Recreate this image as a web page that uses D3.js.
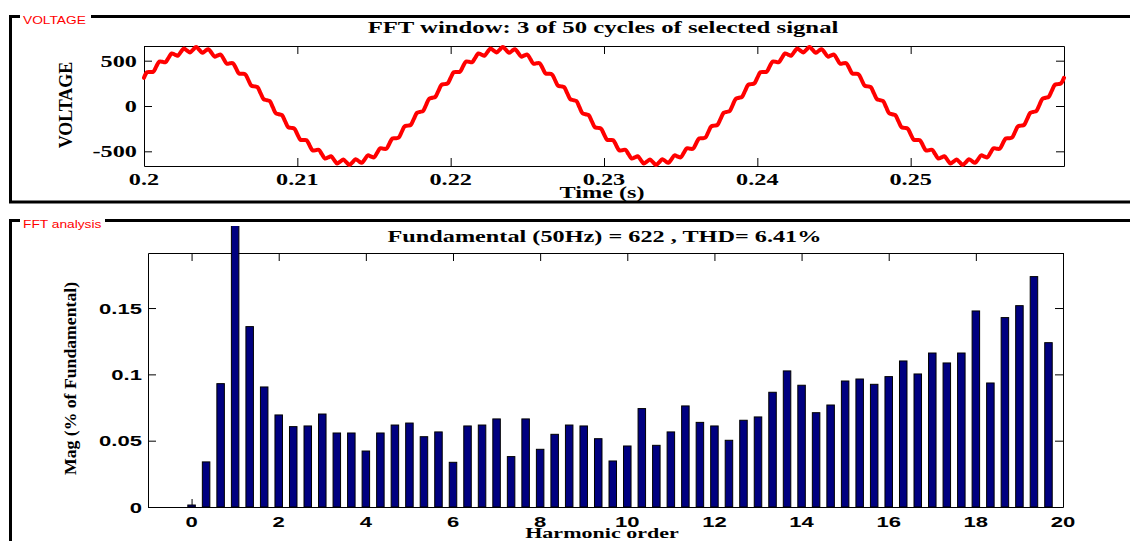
<!DOCTYPE html>
<html>
<head>
<meta charset="utf-8">
<script src="https://cdn.jsdelivr.net/npm/d3@7"></script>
<style>
  body { margin: 0; background: #fff; }
  svg { display: block; }
  .ser { font-family: "Liberation Serif", "Times New Roman", serif; font-weight: bold; fill: #000; }
  .san { font-family: "Liberation Sans", Arial, sans-serif; font-weight: bold; fill: #000; }
  .red { font-family: "Liberation Sans", Arial, sans-serif; fill: #ff0000; }
</style>
</head>
<body>
<div id="chart"></div>
<script>
// ---- data ----
// voltage samples, one every 0.2 ms from t = 0.2 s (3 cycles of 50 Hz)
var voltage = [
  311, 372, 376, 378, 435, 490, 487, 483, 532, 579, 568, 555, 595, 634, 613, 591, 621, 650, 620, 587,
  608, 627, 587, 545, 557, 567, 518, 467, 471, 472, 416, 358, 355, 350, 288, 225, 217, 208, 142, 76,
  65, 54, -13, -80, -91, -101, -167, -233, -241, -249,
  -311, -372, -376, -378, -435, -490, -487, -483, -532, -579, -568, -555, -595, -634, -613, -591, -621, -650, -620, -587,
  -608, -627, -587, -545, -557, -567, -518, -467, -471, -472, -416, -358, -355, -350, -288, -225, -217, -208, -142, -76,
  -65, -54, 13, 80, 91, 101, 167, 233, 241, 249,
  311, 372, 376, 378, 435, 490, 487, 483, 532, 579, 568, 555, 595, 634, 613, 591, 621, 650, 620, 587,
  608, 627, 587, 545, 557, 567, 518, 467, 471, 472, 416, 358, 355, 350, 288, 225, 217, 208, 142, 76,
  65, 54, -13, -80, -91, -101, -167, -233, -241, -249,
  -311, -372, -376, -378, -435, -490, -487, -483, -532, -579, -568, -555, -595, -634, -613, -591, -621, -650, -620, -587,
  -608, -627, -587, -545, -557, -567, -518, -467, -471, -472, -416, -358, -355, -350, -288, -225, -217, -208, -142, -76,
  -65, -54, 13, 80, 91, 101, 167, 233, 241, 249,
  311, 372, 376, 378, 435, 490, 487, 483, 532, 579, 568, 555, 595, 634, 613, 591, 621, 650, 620, 587,
  608, 627, 587, 545, 557, 567, 518, 467, 471, 472, 416, 358, 355, 350, 288, 225, 217, 208, 142, 76,
  65, 54, -13, -80, -91, -101, -167, -233, -241, -249,
  -311, -372, -376, -378, -435, -490, -487, -483, -532, -579, -568, -555, -595, -634, -613, -591, -621, -650, -620, -587,
  -608, -627, -587, -545, -557, -567, -518, -467, -471, -472, -416, -358, -355, -350, -288, -225, -217, -208, -142, -76,
  -65, -54, 13, 80, 91, 101, 167, 233, 241, 249,
  311
];
var tStart = 0.2, tStep = 0.0002;
var timeTicks = [0.2, 0.21, 0.22, 0.23, 0.24, 0.25];
var voltTicks = [-500, 0, 500];

// FFT bins every 1/3 harmonic (3-cycle window); bin 3 is the fundamental (100 %)
var magnitude = [
  0.0015, 0.034, 0.093, 100, 0.136, 0.0905, 0.0694, 0.0606, 0.0611, 0.0701,
  0.0558, 0.0558, 0.0422, 0.0558, 0.0618, 0.0633, 0.053, 0.0566, 0.0337, 0.0611,
  0.0618, 0.0664, 0.038, 0.0664, 0.0435, 0.0548, 0.0618, 0.0611, 0.0515, 0.0347,
  0.046, 0.0742, 0.0465, 0.0566, 0.0762, 0.0638, 0.0611, 0.0503, 0.0654, 0.0679,
  0.0865, 0.1026, 0.0918, 0.0711, 0.0769, 0.095, 0.0965, 0.0925, 0.0983, 0.1101,
  0.1003, 0.1161, 0.1086, 0.1161, 0.1478, 0.0935, 0.1428, 0.1518, 0.1737, 0.1239
];
var binsPerHarmonic = 3;
var harmTicks = [0, 2, 4, 6, 8, 10, 12, 14, 16, 18, 20];
var magTicks = [0, 0.05, 0.1, 0.15];

var titleTop = "FFT window: 3 of 50 cycles of selected signal";
var titleBottom = "Fundamental (50Hz) = 622 , THD= 6.41%";

// ---- drawing ----
var W = 1130, H = 541;
var svg = d3.select("#chart").append("svg").attr("width", W).attr("height", H);

function hText(cls, str, x, y, size, sx, anchor) {
  return svg.append("text").attr("class", cls)
    .attr("transform", "translate(" + x + "," + y + ") scale(" + sx + ",1)")
    .attr("text-anchor", anchor || "middle")
    .style("font-size", size + "px")
    .text(str);
}
function vText(str, x, y, size) {
  return svg.append("text").attr("class", "ser")
    .attr("transform", "translate(" + x + "," + y + ") rotate(-90)")
    .attr("text-anchor", "middle")
    .style("font-size", size + "px")
    .text(str);
}

// panel frames
var frame = svg.append("g").attr("fill", "none").attr("stroke", "#000").attr("stroke-width", 3);
frame.append("path").attr("d", "M9,16.5H1130M10.5,16V203M9,202H1130");
frame.append("path").attr("d", "M9,220.5H1130M10.5,220V541");

// panel captions (red, on white)
svg.append("rect").attr("x", 20).attr("y", 11).attr("width", 71).attr("height", 12).attr("fill", "#fff");
hText("red", "VOLTAGE", 23, 24, 11, 1.25, "start");
svg.append("rect").attr("x", 20).attr("y", 215).attr("width", 85).attr("height", 12).attr("fill", "#fff");
hText("red", "FFT analysis", 23, 228, 11, 1.25, "start");

// ---------- top: signal ----------
var xT = d3.scaleLinear().domain([0.2, 0.26]).range([144, 1064]);
var yT = d3.scaleLinear().domain([-662, 662]).range([166, 46]);

svg.append("g").attr("transform", "translate(0,166)")
  .call(d3.axisBottom(xT).tickValues(timeTicks).tickSize(-8).tickSizeOuter(0).tickFormat(""));
svg.append("g").attr("transform", "translate(0,46)")
  .call(d3.axisTop(xT).tickValues(timeTicks).tickSize(-8).tickSizeOuter(0).tickFormat(""));
svg.append("g").attr("transform", "translate(144,0)")
  .call(d3.axisLeft(yT).tickValues(voltTicks).tickSize(-8).tickSizeOuter(0).tickFormat(""));
svg.append("g").attr("transform", "translate(1064,0)")
  .call(d3.axisRight(yT).tickValues(voltTicks).tickSize(-8).tickSizeOuter(0).tickFormat(""));

var line = d3.line()
  .x(function(d, i) { return xT(tStart + i * tStep); })
  .y(function(d) { return yT(d); })
  .curve(d3.curveCatmullRom.alpha(0.5));
svg.append("path").datum(voltage)
  .attr("d", line)
  .attr("fill", "none").attr("stroke", "#ff0000").attr("stroke-width", 4)
  .attr("stroke-linejoin", "round").attr("stroke-linecap", "round");

timeTicks.forEach(function(t) { hText("ser", String(t), xT(t), 185, 16.5, 1.47); });
voltTicks.forEach(function(v) { hText("ser", String(v), 137, yT(v) + 6, 16.5, 1.47, "end"); });
hText("ser", titleTop, 603, 32.5, 16.5, 1.5);
hText("ser", "Time (s)", 602, 197.5, 16.5, 1.47);
vText("VOLTAGE", 72, 105, 18);

// ---------- bottom: FFT bars ----------
var xB = d3.scaleLinear().domain([-1, 20]).range([148, 1063]);
var yB = d3.scaleLinear().domain([0, 0.1915]).range([507, 253]);

svg.append("g").attr("transform", "translate(0,507)")
  .call(d3.axisBottom(xB).tickValues(harmTicks).tickSize(-8).tickSizeOuter(0).tickFormat(""));
svg.append("g").attr("transform", "translate(0,253)")
  .call(d3.axisTop(xB).tickValues(harmTicks).tickSize(-8).tickSizeOuter(0).tickFormat(""));
svg.append("g").attr("transform", "translate(148,0)")
  .call(d3.axisLeft(yB).tickValues(magTicks).tickSize(-8).tickSizeOuter(0).tickFormat(""));
svg.append("g").attr("transform", "translate(1063,0)")
  .call(d3.axisRight(yB).tickValues(magTicks).tickSize(-8).tickSizeOuter(0).tickFormat(""));

svg.append("clipPath").attr("id", "fftClip")
  .append("rect").attr("x", 140).attr("y", 226).attr("width", 930).attr("height", 290);

var barW = 7.5;
svg.append("g").attr("clip-path", "url(#fftClip)")
  .selectAll("rect").data(magnitude).enter().append("rect")
  .attr("x", function(d, i) { return xB(i / binsPerHarmonic) - barW / 2; })
  .attr("y", function(d) { return yB(d); })
  .attr("width", barW)
  .attr("height", function(d) { return yB(0) - yB(d); })
  .attr("fill", "#000080").attr("stroke", "#000").attr("stroke-width", 1);

harmTicks.forEach(function(h) { hText("san", String(h), xB(h), 527, 15, 1.47); });
magTicks.forEach(function(m) { hText("san", String(m), 142, yB(m) + 5.5, 15, 1.47, "end"); });
hText("ser", titleBottom, 604.5, 241.7, 16.5, 1.47);
hText("ser", "Harmonic order", 602, 537.5, 15, 1.47);
vText("Mag (% of Fundamental)", 76, 378.5, 17.7);
</script>
</body>
</html>
